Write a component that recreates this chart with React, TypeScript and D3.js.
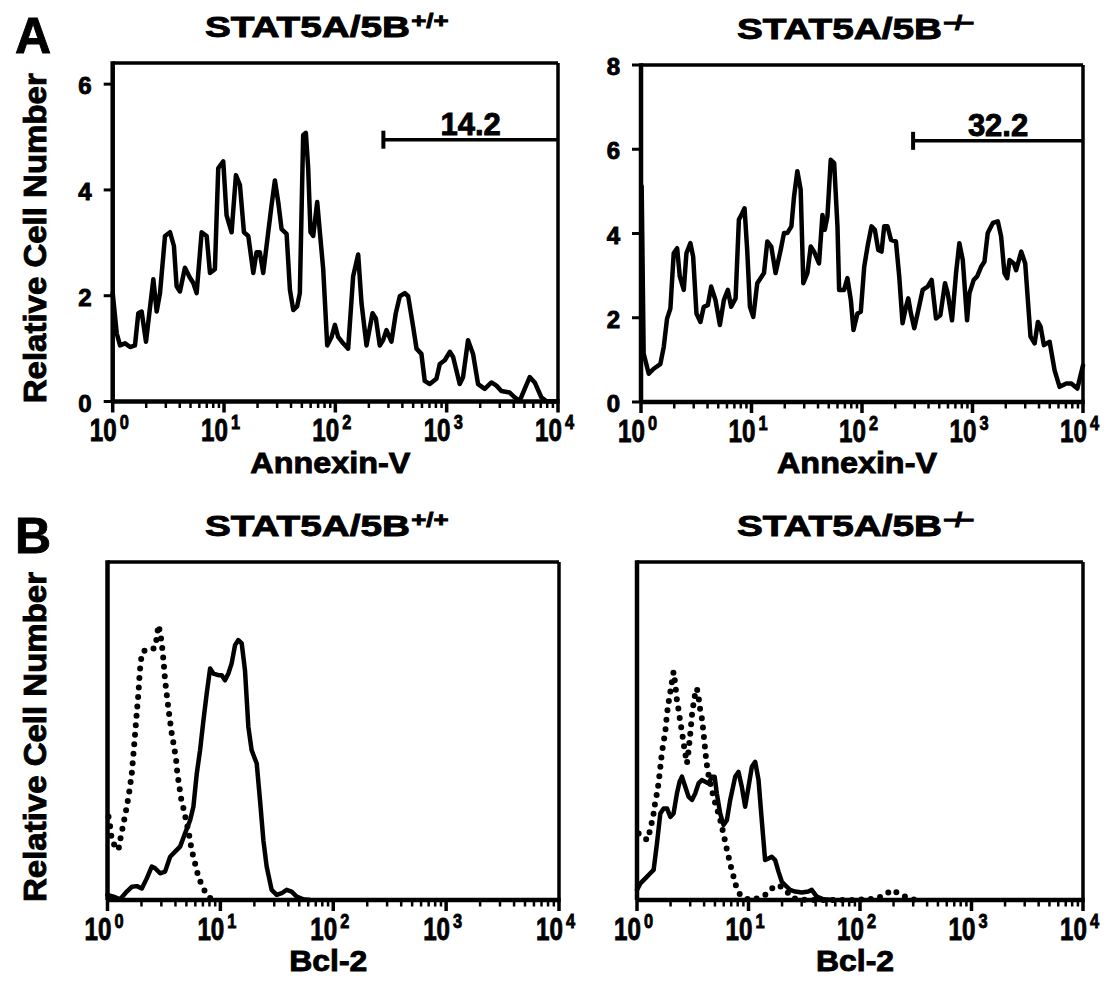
import React, { useRef, useEffect } from 'react';
import * as d3 from 'd3';

// x values are decades (log10 of fluorescence), y values are relative cell numbers

// A, STAT5A/5B +/+ , Annexin-V
const wtAnnexinDecade = [0.0, 0.036, 0.066, 0.111, 0.156, 0.2, 0.23, 0.26, 0.299, 0.329, 0.365, 0.395, 0.425, 0.47, 0.515, 0.55, 0.574, 0.604, 0.649, 0.694, 0.724, 0.754, 0.799, 0.844, 0.874, 0.918, 0.948, 0.993, 1.023, 1.068, 1.107, 1.143, 1.179, 1.218, 1.263, 1.292, 1.322, 1.352, 1.382, 1.427, 1.457, 1.487, 1.517, 1.562, 1.592, 1.622, 1.657, 1.681, 1.711, 1.735, 1.756, 1.777, 1.801, 1.837, 1.861, 1.891, 1.927, 1.966, 1.996, 2.025, 2.07, 2.115, 2.16, 2.205, 2.235, 2.28, 2.334, 2.364, 2.399, 2.429, 2.459, 2.504, 2.543, 2.579, 2.624, 2.654, 2.699, 2.729, 2.773, 2.803, 2.848, 2.908, 2.938, 2.983, 3.028, 3.058, 3.117, 3.147, 3.192, 3.237, 3.282, 3.342, 3.402, 3.447, 3.491, 3.566, 3.611, 3.656, 3.701, 3.746, 3.791, 3.85, 3.895, 3.985];
const wtAnnexinCount = [2.05, 1.29, 1.06, 1.1, 1.03, 1.06, 1.67, 1.7, 1.13, 1.67, 2.31, 1.7, 2.05, 3.13, 3.2, 2.94, 2.18, 2.08, 2.53, 2.34, 2.24, 2.05, 3.2, 3.13, 2.43, 2.5, 4.41, 4.54, 3.52, 3.2, 4.28, 4.09, 3.2, 3.13, 2.43, 2.82, 2.82, 2.43, 2.94, 3.71, 4.18, 3.77, 3.26, 3.17, 2.11, 1.73, 1.8, 2.05, 5.04, 5.08, 4.41, 3.2, 3.13, 3.77, 3.2, 2.5, 1.06, 1.22, 1.45, 1.22, 1.1, 1.0, 2.37, 2.78, 1.86, 1.06, 1.67, 1.57, 1.06, 1.16, 1.35, 1.13, 1.67, 1.99, 2.05, 1.99, 1.41, 1.0, 0.9, 0.39, 0.33, 0.43, 0.71, 0.78, 0.94, 0.84, 0.33, 0.46, 1.16, 0.9, 0.33, 0.24, 0.36, 0.3, 0.2, 0.17, 0.08, 0.01, 0.24, 0.46, 0.36, 0.08, 0.01, 0];

// A, STAT5A/5B -/- , Annexin-V
const koAnnexinDecade = [0.006, 0.024, 0.07, 0.115, 0.175, 0.206, 0.236, 0.266, 0.296, 0.327, 0.351, 0.387, 0.411, 0.447, 0.472, 0.502, 0.538, 0.568, 0.605, 0.635, 0.674, 0.714, 0.75, 0.786, 0.816, 0.856, 0.886, 0.916, 0.937, 0.961, 0.986, 1.016, 1.052, 1.082, 1.113, 1.143, 1.179, 1.218, 1.264, 1.294, 1.324, 1.361, 1.385, 1.415, 1.445, 1.469, 1.506, 1.536, 1.566, 1.611, 1.642, 1.663, 1.687, 1.717, 1.748, 1.778, 1.793, 1.838, 1.868, 1.899, 1.923, 1.959, 1.989, 2.02, 2.05, 2.086, 2.116, 2.147, 2.177, 2.201, 2.231, 2.262, 2.307, 2.337, 2.367, 2.398, 2.419, 2.443, 2.473, 2.503, 2.549, 2.594, 2.63, 2.67, 2.709, 2.751, 2.776, 2.815, 2.851, 2.881, 2.912, 2.951, 2.972, 3.011, 3.042, 3.078, 3.108, 3.138, 3.184, 3.229, 3.259, 3.289, 3.314, 3.335, 3.374, 3.395, 3.441, 3.477, 3.525, 3.562, 3.592, 3.616, 3.646, 3.698, 3.743, 3.788, 3.849, 3.894, 3.949, 4.0];
const koAnnexinCount = [5.12, 1.15, 0.67, 0.79, 0.9, 1.31, 1.98, 2.22, 3.53, 3.65, 2.98, 2.66, 3.53, 3.77, 3.45, 2.1, 1.9, 2.26, 2.3, 2.74, 2.42, 1.83, 2.42, 2.66, 2.26, 2.46, 4.33, 4.48, 4.6, 3.61, 2.26, 2.02, 2.82, 2.94, 3.06, 3.81, 3.69, 3.06, 3.61, 4.01, 4.01, 4.17, 4.88, 5.48, 5.04, 2.82, 3.06, 3.69, 3.57, 3.29, 4.44, 4.09, 4.4, 5.75, 5.67, 4.17, 2.66, 2.66, 2.94, 2.42, 1.71, 2.1, 2.14, 3.21, 3.69, 4.17, 4.09, 3.61, 3.57, 4.17, 4.17, 3.85, 3.81, 2.98, 1.87, 2.26, 2.46, 2.1, 1.75, 2.1, 2.66, 2.74, 2.9, 1.98, 2.06, 2.82, 2.58, 1.94, 3.06, 3.77, 3.37, 1.94, 2.58, 2.9, 2.98, 3.21, 3.33, 4.01, 4.25, 4.29, 3.93, 3.06, 2.94, 3.37, 3.29, 3.13, 3.57, 3.29, 1.55, 1.39, 1.9, 1.79, 1.35, 1.43, 0.75, 0.36, 0.44, 0.44, 0.32, 0.87];

// B, STAT5A/5B +/+ , Bcl-2 (solid) and control (dotted)
const wtBcl2Decade = [0.0, 0.053, 0.112, 0.171, 0.215, 0.26, 0.304, 0.348, 0.392, 0.422, 0.466, 0.51, 0.555, 0.599, 0.643, 0.687, 0.732, 0.761, 0.791, 0.82, 0.85, 0.879, 0.909, 0.938, 0.982, 1.012, 1.041, 1.071, 1.1, 1.13, 1.159, 1.189, 1.218, 1.248, 1.277, 1.322, 1.351, 1.381, 1.41, 1.454, 1.499, 1.543, 1.587, 1.631, 1.676, 1.735, 1.794];
const wtBcl2Count = [1.5, 1.0, 0.2, 2.5, 3.9, 4.1, 3.4, 6.4, 9.9, 9.4, 7.9, 8.4, 12.8, 14.3, 15.8, 19.7, 23.6, 27.6, 37.4, 44.3, 53.2, 61.1, 68.5, 67.0, 66.5, 66.5, 65.0, 67.0, 70.0, 75.4, 76.9, 75.9, 68.0, 51.2, 44.3, 40.4, 29.6, 17.7, 9.9, 3.0, 1.5, 2.0, 3.0, 2.5, 1.0, 0.2, 0];
const wtControlDecade = [0.009, 0.024, 0.038, 0.068, 0.097, 0.112, 0.142, 0.171, 0.195, 0.215, 0.23, 0.245, 0.26, 0.274, 0.283, 0.295, 0.319, 0.378, 0.422, 0.437, 0.451, 0.466, 0.481, 0.496, 0.51, 0.531, 0.549, 0.569, 0.59, 0.608, 0.619, 0.637, 0.649, 0.673, 0.702, 0.726, 0.746, 0.776, 0.805, 0.835, 0.864, 0.894, 0.932];
const wtControlCount = [24.6, 21.7, 17.7, 15.8, 14.8, 17.7, 22.7, 27.6, 32.5, 37.4, 43.3, 49.3, 55.7, 61.1, 66.0, 70.9, 73.7, 73.9, 74.7, 77.8, 81.3, 79.3, 75.9, 70.9, 65.0, 59.1, 54.2, 49.3, 45.3, 41.4, 37.4, 33.5, 30.5, 27.1, 22.7, 18.7, 14.8, 10.8, 6.9, 4.4, 2.5, 1.0, 0];

// B, STAT5A/5B -/- , Bcl-2 (solid) and control (dotted)
const koBcl2Decade = [0.0, 0.03, 0.075, 0.119, 0.149, 0.179, 0.209, 0.239, 0.269, 0.299, 0.328, 0.358, 0.382, 0.403, 0.433, 0.463, 0.493, 0.522, 0.552, 0.582, 0.612, 0.642, 0.672, 0.696, 0.716, 0.746, 0.776, 0.806, 0.836, 0.881, 0.91, 0.94, 0.97, 1.0, 1.03, 1.06, 1.09, 1.119, 1.149, 1.179, 1.209, 1.239, 1.269, 1.299, 1.328, 1.373, 1.418, 1.478, 1.537, 1.567, 1.612, 1.672, 1.761];
const koBcl2Count = [3.0, 4.9, 6.4, 7.9, 8.9, 16.7, 25.6, 27.1, 27.1, 24.6, 25.6, 31.5, 35.0, 36.5, 33.5, 30.5, 29.6, 31.5, 34.5, 35.5, 35.0, 34.5, 36.5, 36.5, 31.5, 25.6, 22.2, 23.6, 29.6, 36.5, 37.9, 33.5, 27.6, 33.5, 39.4, 40.9, 35.5, 23.6, 11.8, 12.3, 12.8, 11.8, 8.4, 5.4, 4.4, 3.0, 2.5, 2.2, 2.5, 3.0, 1.0, 0.2, 0];
const koControlDecade = [0.015, 0.06, 0.09, 0.119, 0.149, 0.164, 0.185, 0.203, 0.224, 0.239, 0.254, 0.269, 0.284, 0.299, 0.313, 0.328, 0.343, 0.358, 0.373, 0.388, 0.403, 0.418, 0.433, 0.448, 0.463, 0.478, 0.493, 0.507, 0.522, 0.537, 0.552, 0.567, 0.582, 0.591, 0.603, 0.612, 0.621, 0.633, 0.651, 0.672, 0.693, 0.716, 0.74, 0.761, 0.782, 0.8, 0.821, 0.842, 0.866, 0.89, 0.925, 0.97, 1.03, 1.075, 1.149, 1.209, 1.269, 1.313, 1.358, 1.403, 1.463, 1.522, 1.642, 1.94, 2.06, 2.149, 2.224, 2.284, 2.343, 2.418, 2.478, 2.537];
const koControlCount = [19.7, 18.7, 17.7, 20.7, 25.6, 29.1, 32.5, 37.4, 43.8, 46.8, 49.8, 55.2, 58.6, 61.6, 64.5, 67.5, 64.0, 59.1, 56.2, 52.7, 49.8, 46.3, 43.3, 40.4, 44.3, 49.3, 54.7, 58.1, 61.1, 62.6, 60.1, 56.2, 53.7, 51.2, 47.3, 44.3, 41.4, 38.4, 35.5, 32.5, 29.6, 27.1, 24.6, 21.7, 18.7, 15.8, 12.8, 9.9, 6.9, 3.9, 1.5, 0.5, 0, 0.5, 1.5, 3.4, 4.4, 3.4, 2.0, 0.5, 0.2, 0, 0, 0, 0.2, 0.5, 1.5, 3.0, 2.0, 0.8, 0.2, 0];

const xTickExponents = [0, 1, 2, 3, 4];
const wtAnnexinTicks = [0, 2, 4, 6];
const koAnnexinTicks = [0, 2, 4, 6, 8];
const titleBase = 'STAT5A/5B';
const genotypes = ['+/+', '\u2212/\u2212'];
const gateStart = [270, 290];
const gateLevel = [4.95, 6.2];
const gateLabels = ['14.2', '32.2'];

const App = () => {
    const svgRef = useRef<SVGSVGElement>(null);
    const width = 1110;
    const height = 983;

    useEffect(() => {
        const svg = d3.select(svgRef.current);
        svg.selectAll('*').remove();
        const font = '"Liberation Sans", Arial, Helvetica, sans-serif';

        const panels = [
            { left: 112.7, right: 558, top: 63, bottom: 401.5, yMax: 6.4, yTicks: wtAnnexinTicks, col: 0, xLabel: 'Annexin-V', xLabelLen: 160, gate: 0,
              series: [{ decade: wtAnnexinDecade, count: wtAnnexinCount, dotted: false }] },
            { left: 641, right: 1083, top: 65, bottom: 402, yMax: 8, yTicks: koAnnexinTicks, col: 1, xLabel: 'Annexin-V', xLabelLen: 160, gate: 1,
              series: [{ decade: koAnnexinDecade, count: koAnnexinCount, dotted: false }] },
            { left: 107.5, right: 559, top: 562, bottom: 900, yMax: 100, yTicks: [], col: 0, xLabel: 'Bcl-2', xLabelLen: 78, gate: -1,
              series: [{ decade: wtControlDecade, count: wtControlCount, dotted: true }, { decade: wtBcl2Decade, count: wtBcl2Count, dotted: false }] },
            { left: 637, right: 1083, top: 562, bottom: 900, yMax: 100, yTicks: [], col: 1, xLabel: 'Bcl-2', xLabelLen: 78, gate: -1,
              series: [{ decade: koControlDecade, count: koControlCount, dotted: true }, { decade: koBcl2Decade, count: koBcl2Count, dotted: false }] },
        ];

        const titleStart = [205, 737];

        panels.forEach((p, i) => {
            const x = d3.scaleLog().domain([1, 1e4]).range([p.left, p.right]);
            const y = d3.scaleLinear().domain([0, p.yMax]).range([p.bottom, p.top]);
            const g = svg.append('g');

            const line = d3
                .line<[number, number]>()
                .x((d) => x(Math.pow(10, d[0])))
                .y((d) => y(d[1]));

            p.series.forEach((s) => {
                const pts = d3.zip(s.decade, s.count) as [number, number][];
                g.append('path')
                    .datum(pts)
                    .attr('d', line)
                    .attr('fill', 'none')
                    .attr('stroke', '#000')
                    .attr('stroke-width', s.dotted ? 6 : 4.5)
                    .attr('stroke-linejoin', 'round')
                    .attr('stroke-linecap', 'round')
                    .attr('stroke-dasharray', s.dotted ? '0 9.5' : null);
            });

            // frame
            g.append('line').attr('x1', p.left).attr('x2', p.right).attr('y1', p.top).attr('y2', p.top).attr('stroke', '#000').attr('stroke-width', 3.5);
            g.append('line').attr('x1', p.right).attr('x2', p.right).attr('y1', p.top).attr('y2', p.bottom).attr('stroke', '#000').attr('stroke-width', 3.5);
            g.append('line').attr('x1', p.left).attr('x2', p.left).attr('y1', p.top - 1.7).attr('y2', p.bottom).attr('stroke', '#000').attr('stroke-width', 4.5);
            g.append('line').attr('x1', p.left).attr('x2', p.right + 1.7).attr('y1', p.bottom).attr('y2', p.bottom).attr('stroke', '#000').attr('stroke-width', 4.5);

            // x ticks: decades and minor ticks
            xTickExponents.forEach((e) => {
                const v = Math.pow(10, e);
                g.append('line').attr('x1', x(v)).attr('x2', x(v)).attr('y1', p.bottom).attr('y2', p.bottom + 11).attr('stroke', '#000').attr('stroke-width', 3.5);
                if (e < 4) {
                    d3.range(2, 10).forEach((m) => {
                        g.append('line').attr('x1', x(m * v)).attr('x2', x(m * v)).attr('y1', p.bottom).attr('y2', p.bottom + 6.5).attr('stroke', '#000').attr('stroke-width', 2.5);
                    });
                }
                const lbl = g.append('text')
                    .attr('transform', `translate(${x(v) - 23},${p.bottom + 39.5}) scale(0.78,1)`)
                    .attr('font-size', 31);
                lbl.append('tspan').text('10');
                lbl.append('tspan').attr('dx', 4).attr('dy', -12).attr('font-size', 21).text(String(e));
            });

            // y ticks
            p.yTicks.forEach((t) => {
                g.append('line').attr('x1', p.left - 9).attr('x2', p.left).attr('y1', y(t)).attr('y2', y(t)).attr('stroke', '#000').attr('stroke-width', 3);
                g.append('text')
                    .attr('x', p.left - 21)
                    .attr('y', y(t) + 10)
                    .attr('text-anchor', 'end')
                    .attr('font-size', 24)
                    .text(String(t));
            });

            // x axis label
            g.append('text')
                .attr('x', (p.left + p.right) / 2 - 5)
                .attr('y', p.bottom + 71)
                .attr('text-anchor', 'middle')
                .attr('font-size', 30)
                .attr('textLength', p.xLabelLen)
                .attr('lengthAdjust', 'spacingAndGlyphs')
                .text(p.xLabel);

            // title with genotype superscript
            const ty = p.top - 26;
            const title = g.append('text')
                .attr('transform', `translate(${titleStart[p.col]},${ty}) scale(1.29,1)`)
                .attr('font-size', 30);
            title.append('tspan').text(titleBase);
            title.append('tspan')
                .attr('dx', 1)
                .attr('dy', -9)
                .attr('font-size', 20)
                .attr('letter-spacing', p.col === 0 ? 0 : -2.5)
                .text(genotypes[p.col]);

            // gate bracket
            if (p.gate >= 0) {
                const gx = x(gateStart[p.gate]);
                const gy = y(gateLevel[p.gate]);
                g.append('line').attr('x1', gx).attr('x2', p.right).attr('y1', gy).attr('y2', gy).attr('stroke', '#000').attr('stroke-width', 3.5);
                g.append('line').attr('x1', gx).attr('x2', gx).attr('y1', gy - 9).attr('y2', gy + 9).attr('stroke', '#000').attr('stroke-width', 4);
                g.append('text')
                    .attr('x', x(Math.sqrt(gateStart[p.gate] * 1e4)))
                    .attr('y', gy - 5)
                    .attr('text-anchor', 'middle')
                    .attr('font-size', 31)
                    .text(gateLabels[p.gate]);
            }

            // y axis title on the left column
            if (p.col === 0) {
                const cy = (p.top + p.bottom) / 2 + 6;
                g.append('text')
                    .attr('transform', `translate(46,${cy}) rotate(-90)`)
                    .attr('text-anchor', 'middle')
                    .attr('font-size', 31)
                    .attr('textLength', 330)
                    .attr('lengthAdjust', 'spacingAndGlyphs')
                    .text('Relative Cell Number');
            }

            if (i === 0 || i === 2) {
                g.append('text')
                    .attr('x', 15)
                    .attr('y', i === 0 ? 53 : 553)
                    .attr('font-size', 50)
                    .text(i === 0 ? 'A' : 'B');
            }
        });

        svg.selectAll('text')
            .attr('font-family', font)
            .attr('font-weight', 'bold')
            .attr('fill', '#000')
            .attr('stroke', '#000')
            .attr('stroke-width', 0.9);
    }, []);

    return (
        <svg
            ref={svgRef}
            width={width}
            height={height}
            style={{ position: 'absolute', left: 0, top: 0, background: '#fff' }}
        />
    );
};

export default App;
